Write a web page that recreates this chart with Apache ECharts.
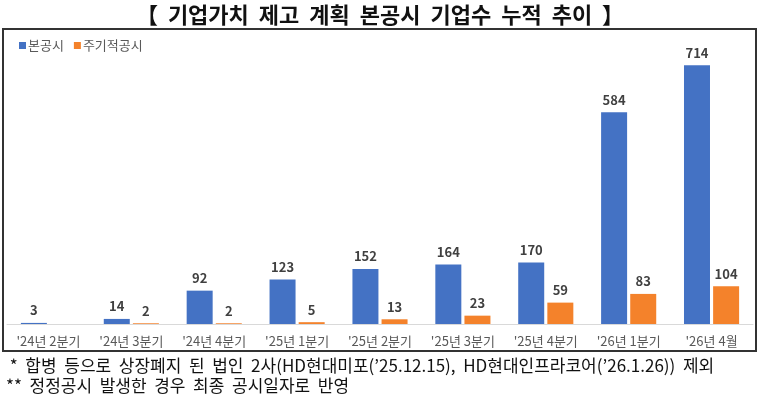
<!DOCTYPE html>
<html>
<head>
<meta charset="utf-8">
<script src="https://cdn.jsdelivr.net/npm/echarts@6/dist/echarts.min.js"></script>
<style>
html, body { margin: 0; padding: 0; background: #fff; }
#chart { width: 760px; height: 400px; }
</style>
</head>
<body>
<div id="chart"></div>
<script>
// 분기별 카테고리와 누적 기업수
var categories = ["'24년 2분기", "'24년 3분기", "'24년 4분기", "'25년 1분기", "'25년 2분기",
    "'25년 3분기", "'25년 4분기", "'26년 1분기", "'26년 4월"];
var mainValues = [3, 14, 92, 123, 152, 164, 170, 584, 714];
var periodicValues = [null, 2, 2, 5, 13, 23, 59, 83, 104];
var seriesNames = ['본공시', '주기적공시'];
var titleText = '【  기업가치  제고  계획  본공시  기업수  누적  추이  】';
var notes = [
    ' *  합병  등으로  상장폐지  된  법인  2사(HD현대미포(\u201925.12.15),  HD현대인프라코어(\u201926.1.26))  제외',
    '**  정정공시  발생한  경우  최종  공시일자로  반영'
];

var font = "'Noto Sans CJK KR', 'Noto Sans', sans-serif";
var myChart = echarts.init(document.getElementById('chart'));

var labelStyle = {
    show: true,
    position: 'top',
    distance: 6,
    color: '#404040',
    fontSize: 13,
    fontWeight: 'bold',
    fontFamily: font
};

myChart.setOption({
    animation: false,
    title: {
        text: titleText,
        left: 'center',
        top: -1,
        textStyle: { fontSize: 22, fontWeight: 'bold', color: '#111', fontFamily: font }
    },
    legend: {
        data: seriesNames,
        left: 14,
        top: 34,
        itemWidth: 7,
        itemHeight: 7,
        itemGap: 10,
        icon: 'rect',
        textStyle: { fontSize: 13, color: '#595959', fontFamily: font, padding: [0, 0, 0, -3] }
    },
    grid: { left: 7, right: 7, top: 34, bottom: 76 },
    xAxis: {
        type: 'category',
        data: categories,
        axisLine: { lineStyle: { color: '#d9d9d9' } },
        axisTick: { show: false },
        axisLabel: { interval: 0, color: '#595959', fontSize: 13, fontFamily: font, margin: 11 }
    },
    yAxis: {
        type: 'value',
        min: 0,
        max: 800,
        show: false,
        splitLine: { show: false }
    },
    series: [
        {
            name: seriesNames[0],
            type: 'bar',
            data: mainValues,
            barWidth: 26,
            barGap: '12%',
            itemStyle: { color: '#4472C4' },
            label: labelStyle
        },
        {
            name: seriesNames[1],
            type: 'bar',
            data: periodicValues,
            barWidth: 26,
            itemStyle: { color: '#F4822B' },
            label: labelStyle
        }
    ],
    graphic: [
        {
            type: 'rect',
            shape: { x: 3, y: 29, width: 753, height: 322 },
            style: { fill: 'none', stroke: '#333', lineWidth: 2 },
            silent: true
        },
        {
            type: 'text',
            left: 6,
            top: 357,
            style: { text: notes[0], fontSize: 17, fill: '#111', fontFamily: font }
        },
        {
            type: 'text',
            left: 6,
            top: 377,
            style: { text: notes[1], fontSize: 17, fill: '#111', fontFamily: font }
        }
    ]
});
</script>
</body>
</html>
